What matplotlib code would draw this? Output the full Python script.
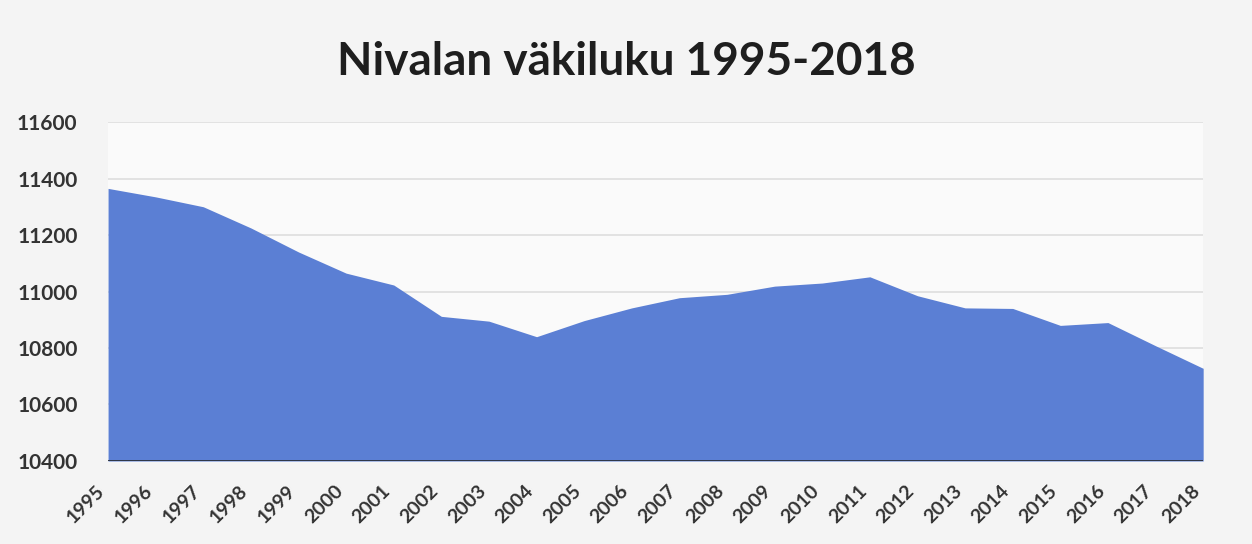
import matplotlib
matplotlib.use("Agg")
import matplotlib.pyplot as plt
from matplotlib.transforms import ScaledTranslation

years = list(range(1995, 2019))
population = [11365, 11335, 11300, 11225, 11140, 11065, 11023, 10912, 10895, 10840,
              10897, 10942, 10978, 10990, 11019, 11030, 11052, 10985, 10942, 10940,
              10880, 10890, 10808, 10728]
y_ticks = [10400, 10600, 10800, 11000, 11200, 11400, 11600]
title = "Nivalan väkiluku 1995-2018"

plt.rcParams['font.family'] = ['Lato', 'DejaVu Sans']

fig = plt.figure(figsize=(12.52, 5.44), dpi=100, facecolor='#f4f4f4')
ax = fig.add_axes([0.0863, 0.1526, 0.8747, 0.6231])
ax.set_facecolor('#fafafa')

ax.fill_between(years, population, 10400, color='#5b7fd4', linewidth=0, zorder=2)
ax.axhline(10400, color='#2a2f3a', linewidth=2, zorder=3)

ax.set_xlim(1995, 2018)
ax.set_ylim(10400, 11600)
ax.set_yticks(y_ticks)
ax.set_yticklabels([str(v) for v in y_ticks], fontsize=15, fontweight='bold', color='#333333')
ax.set_xticks(years)
ax.set_xticklabels([str(y) for y in years], rotation=45, ha='right', rotation_mode='default',
                   fontsize=14, fontweight='bold', color='#333333')
offset = ScaledTranslation(5 / 100, 0, fig.dpi_scale_trans)
for lbl in ax.get_xticklabels():
    lbl.set_transform(lbl.get_transform() + offset)
ax.tick_params(axis='both', length=0)
ax.tick_params(axis='y', pad=22)
ax.tick_params(axis='x', pad=15)
ax.grid(axis='y', color='#dedede', linewidth=1.2, zorder=1)
ax.set_axisbelow(True)
for s in ax.spines.values():
    s.set_visible(False)

fig.text(0.5, 0.886, title, ha='center', va='center', fontsize=33, fontweight='bold', color='#1e1e1e')

fig.savefig('out.png', dpi=100, facecolor=fig.get_facecolor())
